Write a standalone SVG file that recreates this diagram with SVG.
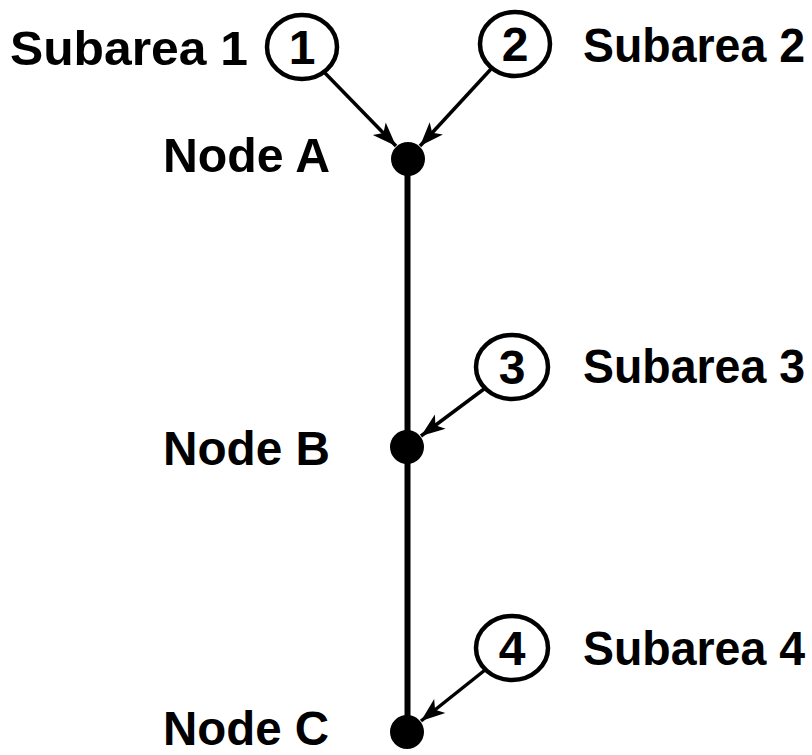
<svg xmlns="http://www.w3.org/2000/svg" width="812" height="755" viewBox="0 0 812 755">
<defs>
<style>
.lbl{font-family:"Liberation Sans",Arial,sans-serif;font-weight:bold;font-size:48px;fill:#000}
.num{font-family:"Liberation Sans",Arial,sans-serif;font-weight:bold;font-size:48px;fill:#000;text-anchor:middle}
.ring{fill:#fff;stroke:#000;stroke-width:4.5}
.dot{fill:#000}
.arr{stroke:#000;stroke-width:3.5;fill:none;marker-end:url(#ah)}
.main{stroke:#000;stroke-width:6;fill:none}
</style>
<marker id="ah" markerUnits="userSpaceOnUse" viewBox="-26 -12 28 24" markerWidth="28" markerHeight="24" refX="0" refY="0" orient="auto">
<path d="M0,0 L-24,-9 L-18,0 L-24,9 Z" fill="#000"/>
</marker>
</defs>
<rect width="812" height="755" fill="#fff"/>
<g id="connectors">
<line class="main" x1="407.5" y1="159" x2="407.5" y2="732"/>
<line class="arr" x1="324" y1="72" x2="396" y2="146"/>
<line class="arr" x1="491" y1="69" x2="420" y2="146"/>
<line class="arr" x1="484" y1="389" x2="421" y2="436"/>
<line class="arr" x1="485" y1="670" x2="421" y2="721"/>
</g>
<g id="subarea1">
<ellipse class="ring" cx="302" cy="47" rx="35" ry="32"/>
<text class="num" x="302" y="64">1</text>
<text class="lbl" x="10" y="65" textLength="238" lengthAdjust="spacingAndGlyphs">Subarea 1</text>
</g>
<g id="subarea2">
<ellipse class="ring" cx="515" cy="44" rx="35" ry="32"/>
<text class="num" x="515" y="61">2</text>
<text class="lbl" x="583" y="62" textLength="222" lengthAdjust="spacingAndGlyphs">Subarea 2</text>
</g>
<g id="subarea3">
<ellipse class="ring" cx="512" cy="367" rx="36" ry="32"/>
<text class="num" x="512" y="384">3</text>
<text class="lbl" x="583" y="383" textLength="222" lengthAdjust="spacingAndGlyphs">Subarea 3</text>
</g>
<g id="subarea4">
<ellipse class="ring" cx="512" cy="648" rx="36" ry="32"/>
<text class="num" x="512" y="665">4</text>
<text class="lbl" x="583" y="665" textLength="222" lengthAdjust="spacingAndGlyphs">Subarea 4</text>
</g>
<g id="nodeA">
<circle class="dot" cx="408" cy="159" r="17"/>
<text class="lbl" x="163" y="172" textLength="167" lengthAdjust="spacingAndGlyphs">Node A</text>
</g>
<g id="nodeB">
<circle class="dot" cx="407" cy="447" r="17"/>
<text class="lbl" x="163" y="465" textLength="167" lengthAdjust="spacingAndGlyphs">Node B</text>
</g>
<g id="nodeC">
<circle class="dot" cx="407" cy="732" r="17"/>
<text class="lbl" x="163" y="745" textLength="166" lengthAdjust="spacingAndGlyphs">Node C</text>
</g>
</svg>
